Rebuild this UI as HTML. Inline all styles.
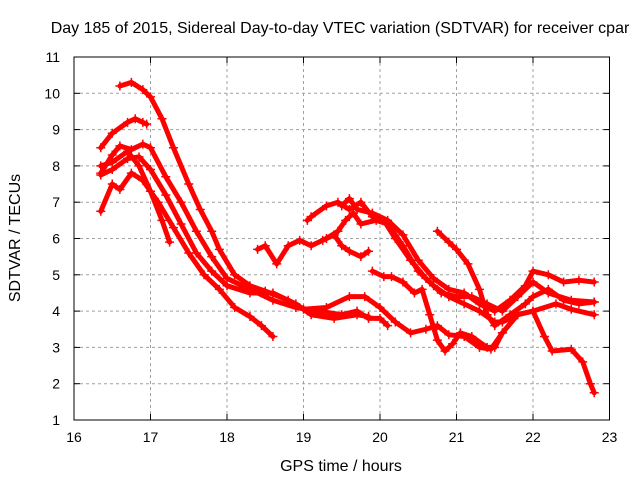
<!DOCTYPE html>
<html><head><meta charset="utf-8"><style>
body{margin:0;background:#fff}
svg{display:block;font-family:"Liberation Sans",sans-serif}
</style></head><body>
<svg id="chart" width="640" height="480" viewBox="0 0 640 480">
<rect width="640" height="480" fill="#fff"/>
<text x="340" y="33" text-anchor="middle" font-size="16" fill="#000">Day 185 of 2015, Sidereal Day-to-day VTEC variation (SDTVAR) for receiver cpar</text>
<text x="341" y="471" text-anchor="middle" font-size="16">GPS time / hours</text>
<text transform="translate(20,238) rotate(-90)" text-anchor="middle" font-size="16">SDTVAR / TECUs</text>
<g id="grid"></g>
<g id="marks"></g>
<rect x="74" y="57" width="535.5" height="363" fill="none" stroke="#000" stroke-width="1"/>
<g id="ticks"></g>
</svg>
<script>
const xTicks=[16,17,18,19,20,21,22,23];
const yTicks=[1,2,3,4,5,6,7,8,9,10,11];
const s1=[[16.6,10.2],[16.75,10.3],[16.9,10.1],[17.0,9.9],[17.15,9.3],[17.3,8.5],[17.5,7.5],[17.65,6.8],[17.8,6.2],[17.9,5.7],[18.1,5.0],[18.3,4.7],[18.5,4.55],[18.8,4.3],[19.0,4.05],[19.3,4.1],[19.6,4.4],[19.8,4.4],[20.0,4.1],[20.2,3.7],[20.4,3.4],[20.6,3.5],[20.75,3.6],[20.9,3.35],[21.1,3.3],[21.3,3.0],[21.45,2.95],[21.6,3.4],[21.8,3.9],[22.0,4.0],[22.15,3.3],[22.25,2.9],[22.5,2.95],[22.65,2.6],[22.75,2.0],[22.8,1.75]];
const s2=[[16.35,8.5],[16.5,8.9],[16.7,9.2],[16.8,9.3],[16.9,9.2],[16.95,9.15]];
const s3=[[16.35,7.8],[16.5,8.3],[16.6,8.55],[16.75,8.45],[16.9,8.6],[17.0,8.5],[17.2,7.7],[17.4,7.0],[17.6,6.2],[17.8,5.5],[18.0,4.9],[18.3,4.6],[18.6,4.3],[18.9,4.1],[19.2,4.0],[19.5,3.9],[19.7,4.0],[19.85,3.8],[20.0,3.8],[20.1,3.6]];
const s4=[[16.35,8.0],[16.5,8.1],[16.7,8.4],[16.85,8.0],[17.0,7.3],[17.15,6.5],[17.25,5.9]];
const s5=[[16.35,6.75],[16.5,7.5],[16.6,7.35],[16.75,7.8],[16.9,7.6],[17.1,7.0],[17.3,6.3],[17.5,5.6],[17.7,5.0],[17.9,4.6],[18.1,4.1],[18.3,3.85],[18.45,3.6],[18.6,3.3]];
const s6=[[16.35,7.75],[16.5,7.9],[16.7,8.2],[16.85,8.25],[17.0,7.9],[17.2,7.2],[17.4,6.4],[17.6,5.6],[17.8,5.1],[18.0,4.7],[18.3,4.5],[18.6,4.5],[18.9,4.2],[19.1,3.9],[19.4,3.8],[19.7,3.9],[19.85,3.85]];
const s7=[[18.4,5.7],[18.5,5.8],[18.65,5.3],[18.8,5.8],[18.95,5.95],[19.1,5.8],[19.3,6.0],[19.45,6.2],[19.55,6.5],[19.65,6.7],[19.75,6.4],[19.95,6.5],[20.1,6.4],[20.3,5.8],[20.5,5.1],[20.7,4.7],[20.9,4.4],[21.1,4.2],[21.3,4.0],[21.5,3.7],[21.6,3.7],[21.8,3.9],[22.0,4.0],[22.3,4.2],[22.5,4.05],[22.8,3.9]];
const s8=[[19.05,6.5],[19.1,6.6],[19.3,6.9],[19.45,7.0],[19.6,6.8],[19.75,7.0],[19.9,6.6],[20.05,6.5],[20.2,6.0],[20.4,5.4],[20.6,4.9],[20.8,4.5],[21.0,4.4],[21.2,4.4],[21.4,4.2],[21.6,4.0],[21.8,4.4],[22.0,4.8],[22.2,4.5],[22.5,4.3],[22.8,4.25]];
const s9=[[19.25,5.95],[19.4,6.1],[19.5,5.8],[19.6,5.65],[19.75,5.5],[19.85,5.65]];
const s10=[[19.5,6.9],[19.6,7.1],[19.7,6.8],[19.9,6.7],[20.1,6.5],[20.3,6.1],[20.5,5.4],[20.7,4.9],[20.9,4.6],[21.1,4.5],[21.3,4.2],[21.5,4.0],[21.7,4.3],[21.9,4.7],[22.0,5.1],[22.2,5.0],[22.4,4.8],[22.6,4.85],[22.8,4.8]];
const s11=[[19.9,5.1],[20.05,4.95],[20.15,4.95],[20.3,4.8],[20.45,4.5],[20.55,4.6],[20.65,3.9],[20.75,3.2],[20.85,2.9],[20.95,3.1],[21.05,3.4],[21.2,3.3],[21.4,3.0],[21.5,3.0],[21.6,3.4]];
const s12=[[20.75,6.2],[20.9,5.9],[21.0,5.7],[21.15,5.3],[21.3,4.6],[21.4,3.9],[21.5,3.6],[21.7,3.9],[21.9,4.2],[22.0,4.4],[22.2,4.6],[22.4,4.3],[22.6,4.2],[22.8,4.25]];
const allSeries=[s1,s2,s3,s4,s5,s6,s7,s8,s9,s10,s11,s12];

const X0=74,X1=609.5,Y0=420,Y1=57;
const xs=t=>X0+(t-16)/(23-16)*(X1-X0);
const ys=v=>Y0-(v-1)/(11-1)*(Y0-Y1);
const NS="http://www.w3.org/2000/svg";
const grid=document.getElementById('grid'),ticks=document.getElementById('ticks'),marks=document.getElementById('marks');
function mk(tag,attrs,parent){const e=document.createElementNS(NS,tag);for(const k in attrs)e.setAttribute(k,attrs[k]);parent.appendChild(e);return e;}
xTicks.forEach(t=>{
  const x=xs(t);
  if(t>16&&t<23){const g=mk('line',{x1:x,x2:x,y1:Y1,y2:Y0,stroke:'#a0a0a0','stroke-dasharray':'3,3'},grid);
  
  }
  const l=mk('text',{x:x,y:Y0+22,'text-anchor':'middle','font-size':'14'},ticks);l.textContent=t;
  
  
  mk('line',{x1:x,x2:x,y1:Y0,y2:Y0-6,stroke:'#000'},ticks);mk('line',{x1:x,x2:x,y1:Y1,y2:Y1+6,stroke:'#000'},ticks);
});
yTicks.forEach(v=>{
  const y=ys(v);
  if(v>1&&v<11){const g=mk('line',{x1:X0,x2:X1,y1:y,y2:y,stroke:'#a0a0a0','stroke-dasharray':'3,3'},grid);
  
  }
  const l=mk('text',{x:X0-14,y:y+5,'text-anchor':'end','font-size':'14'},ticks);l.textContent=v;
  
  
  mk('line',{x1:X0,x2:X0+6,y1:y,y2:y,stroke:'#000'},ticks);mk('line',{x1:X1,x2:X1-6,y1:y,y2:y,stroke:'#000'},ticks);
});
allSeries.forEach((s,i)=>{
  const pts=s.map(p=>xs(p[0])+','+ys(p[1])).join(' ');
  const pl=mk('polyline',{points:pts,fill:'none',stroke:'#ff0000','stroke-width':'5','stroke-linejoin':'round','stroke-linecap':'round'},marks);
  
  
  s.forEach(p=>{
    const x=xs(p[0]),y=ys(p[1]);
    const m=mk('path',{d:`M${x-4.5},${y}H${x+4.5}M${x},${y-4.5}V${y+4.5}`,stroke:'#ff0000','stroke-width':'1.5'},marks);
    
    
  });
});
</script>
</body></html>
